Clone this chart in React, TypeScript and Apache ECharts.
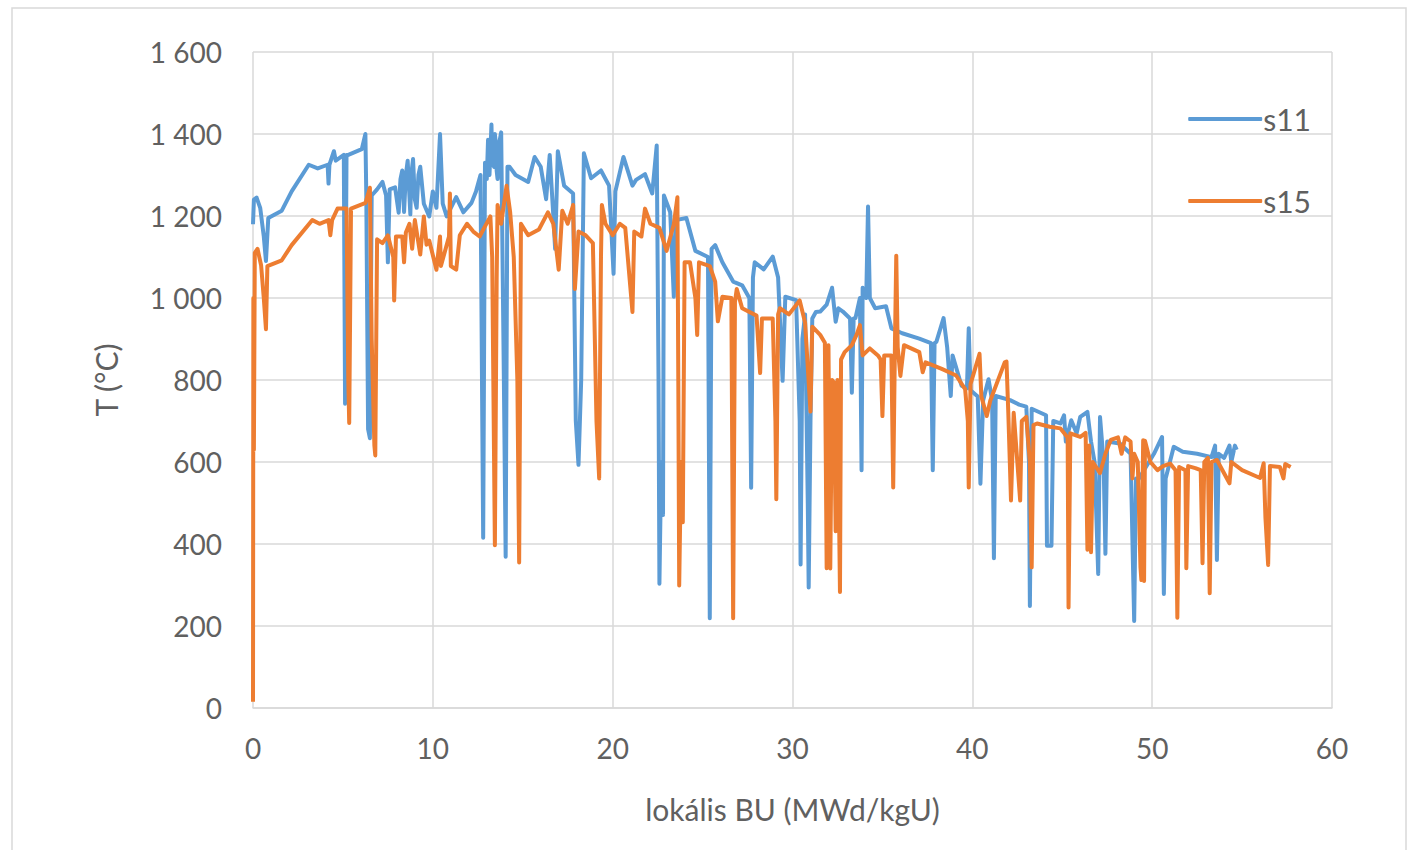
import React, { useEffect, useRef } from "react";
import * as echarts from "echarts";

const xTicks = [0, 10, 20, 30, 40, 50, 60];
const yTicks = [0, 200, 400, 600, 800, 1000, 1200, 1400, 1600];
const seriesNames = ["s11", "s15"];
const xTitle = "lokális BU (MWd/kgU)";
const yTitle = "T (°C)";

// s11: [burnup MWd/kgU, temperature °C]
const s11Points: [number, number][] = [
  [0.0, 1180], [0.05, 1240], [0.2, 1245], [0.4, 1220], [0.6, 1150], [0.72, 1090], [0.85, 1195],
  [1.6, 1213], [2.15, 1260], [3.1, 1325], [3.6, 1316], [4.15, 1325], [4.2, 1279], [4.25, 1325],
  [4.5, 1358], [4.6, 1335], [5.05, 1349], [5.12, 742], [5.2, 1349], [5.3, 1349], [6.05, 1363],
  [6.25, 1400], [6.3, 1250], [6.4, 680], [6.5, 658], [6.6, 1250], [6.9, 1265], [7.2, 1283],
  [7.4, 1250], [7.5, 1087], [7.6, 1265], [7.9, 1270], [8.1, 1208], [8.2, 1290], [8.3, 1311],
  [8.4, 1210], [8.5, 1300], [8.6, 1335], [8.75, 1204], [8.8, 1300], [8.9, 1339], [9.0, 1240],
  [9.1, 1220], [9.2, 1300], [9.3, 1320], [9.5, 1230], [9.8, 1199], [10.0, 1260], [10.2, 1220],
  [10.4, 1400], [10.55, 1230], [10.77, 1199], [11.3, 1246], [11.7, 1209], [12.15, 1232],
  [12.4, 1260], [12.65, 1300], [12.75, 700], [12.8, 415], [12.9, 1330], [13.0, 1290],
  [13.07, 1386], [13.15, 1300], [13.26, 1423], [13.3, 1330], [13.4, 1320], [13.45, 1400],
  [13.5, 1380], [13.55, 1310], [13.6, 1290], [13.7, 1380], [13.8, 1404], [13.95, 800],
  [14.05, 369], [14.15, 1320], [14.27, 1320], [14.6, 1300], [15.3, 1283], [15.66, 1344],
  [16.0, 1320], [16.3, 1241], [16.5, 1349], [16.7, 1200], [16.8, 1120], [16.95, 1358],
  [17.3, 1274], [17.8, 1255], [17.95, 700], [18.1, 593], [18.25, 800], [18.4, 1353], [18.8, 1292],
  [19.35, 1311], [19.8, 1274], [20.05, 1059], [20.15, 1260], [20.6, 1344], [21.1, 1274],
  [21.3, 1288], [21.8, 1302], [22.2, 1255], [22.45, 1372], [22.55, 800], [22.6, 303], [22.7, 600],
  [22.8, 471], [22.85, 1250], [23.2, 1209], [23.4, 1003], [23.5, 1190], [24.1, 1195],
  [24.6, 1115], [25.3, 1100], [25.4, 219], [25.5, 1120], [25.7, 1129], [26.1, 1087], [26.7, 1040],
  [27.2, 1031], [27.6, 1000], [27.7, 537], [27.8, 1050], [27.9, 1087], [28.4, 1070], [28.9, 1101],
  [29.2, 1050], [29.45, 798], [29.6, 1003], [30.2, 995], [30.4, 700], [30.45, 350], [30.55, 900],
  [30.7, 960], [30.85, 500], [30.9, 294], [31.0, 700], [31.1, 950], [31.3, 966], [31.54, 967],
  [31.9, 984], [32.2, 1025], [32.4, 942], [32.55, 975], [32.8, 967], [33.2, 950], [33.3, 769],
  [33.4, 950], [33.5, 951], [33.75, 1000], [33.84, 580], [33.9, 1025], [34.1, 1000], [34.2, 1223],
  [34.3, 1000], [34.6, 975], [35.2, 980], [35.5, 926], [36.1, 914], [37.05, 901], [37.7, 890],
  [37.8, 580], [37.9, 890], [38.0, 893], [38.4, 951], [38.6, 880], [38.8, 761], [38.9, 860],
  [39.4, 786], [39.7, 780], [39.8, 926], [39.9, 775], [40.3, 760], [40.45, 547], [40.6, 750],
  [40.9, 802], [41.1, 750], [41.2, 365], [41.3, 761], [42.1, 751], [42.6, 740], [43.0, 735],
  [43.15, 600], [43.2, 249], [43.3, 730], [44.1, 714], [44.15, 396], [44.4, 396], [44.5, 700],
  [44.9, 694], [45.1, 714], [45.2, 650], [45.5, 702], [45.8, 670], [46.0, 710], [46.4, 722],
  [46.6, 650], [46.8, 600], [47.0, 327], [47.1, 710], [47.3, 600], [47.4, 376], [47.5, 650],
  [48.2, 645], [48.8, 620], [49.0, 212], [49.1, 560], [49.2, 555], [50.1, 620], [50.55, 661],
  [50.65, 278], [50.75, 560], [51.2, 637], [51.7, 625], [52.5, 620], [53.3, 612], [53.5, 640],
  [53.6, 361], [53.7, 620], [54.0, 610], [54.3, 640], [54.4, 600], [54.6, 640], [54.7, 630],
];

// s15: [burnup MWd/kgU, temperature °C]
const s15Points: [number, number][] = [
  [0.0, 15], [0.02, 1000], [0.05, 630], [0.1, 1110], [0.25, 1120], [0.45, 1080], [0.6, 1000],
  [0.72, 924], [0.8, 1078], [1.6, 1092], [2.15, 1129], [3.3, 1190], [3.7, 1181], [4.2, 1190],
  [4.3, 1153], [4.4, 1190], [4.7, 1218], [5.2, 1218], [5.3, 800], [5.35, 695], [5.45, 1218],
  [6.26, 1232], [6.5, 1269], [6.6, 900], [6.75, 640], [6.8, 616], [6.9, 1143], [7.2, 1134],
  [7.5, 1153], [7.8, 1100], [7.85, 994], [7.95, 1150], [8.3, 1150], [8.4, 1087], [8.5, 1160],
  [8.7, 1181], [8.85, 1120], [9.0, 1190], [9.3, 1106], [9.5, 1199], [9.65, 1130], [9.8, 1140],
  [10.2, 1069], [10.4, 1150], [10.45, 1078], [10.9, 1150], [10.95, 1255], [11.0, 1078],
  [11.3, 1069], [11.5, 1153], [11.9, 1181], [12.25, 1162], [12.6, 1150], [13.2, 1199],
  [13.3, 1100], [13.45, 397], [13.55, 1050], [13.6, 1227], [13.8, 1181], [14.1, 1274],
  [14.3, 1209], [14.5, 1100], [14.7, 800], [14.8, 355], [14.9, 1181], [15.3, 1153], [15.9, 1167],
  [16.4, 1209], [16.7, 1181], [17.0, 1069], [17.2, 1213], [17.5, 1181], [17.8, 1227], [17.9, 1022],
  [18.1, 1162], [18.5, 1153], [18.9, 1134], [19.1, 700], [19.25, 560], [19.35, 1100], [19.4, 1227],
  [19.6, 1181], [20.0, 1153], [20.4, 1181], [20.7, 1171], [21.1, 966], [21.2, 1162], [21.6, 1150],
  [21.8, 1218], [22.1, 1181], [22.6, 1171], [23.0, 1115], [23.4, 1180], [23.6, 1246], [23.65, 800],
  [23.7, 299], [23.8, 600], [23.9, 453], [24.0, 1087], [24.3, 1087], [24.6, 1000], [24.7, 910],
  [24.8, 1087], [25.4, 1078], [25.7, 1040], [25.85, 943], [26.1, 1003], [26.6, 1000], [26.7, 219],
  [26.8, 990], [26.9, 1022], [27.2, 975], [28.0, 957], [28.2, 817], [28.3, 950], [28.9, 950],
  [29.05, 700], [29.1, 509], [29.2, 960], [29.3, 975], [29.8, 960], [30.4, 994], [30.7, 940],
  [31.0, 723], [31.1, 930], [31.54, 910], [31.8, 891], [31.9, 341], [32.0, 885], [32.1, 340],
  [32.2, 800], [32.3, 794], [32.4, 431], [32.5, 800], [32.64, 283], [32.7, 850], [32.9, 868],
  [33.3, 885], [33.56, 910], [33.75, 934], [33.9, 860], [34.3, 877], [34.75, 860], [34.9, 850],
  [35.0, 712], [35.1, 860], [35.5, 860], [35.6, 538], [35.7, 900], [35.77, 1103], [35.85, 880],
  [36.0, 810], [36.2, 885], [37.05, 868], [37.24, 819], [37.4, 843], [38.3, 827], [39.1, 811],
  [39.6, 778], [39.75, 700], [39.8, 538], [39.9, 790], [40.4, 864], [40.5, 760], [40.8, 712],
  [41.0, 750], [41.8, 843], [41.9, 845], [42.0, 720], [42.15, 506], [42.3, 720], [42.66, 506],
  [42.75, 700], [43.0, 710], [43.2, 600], [43.3, 343], [43.4, 690], [43.6, 694], [44.3, 686],
  [44.9, 682], [45.3, 660], [45.35, 245], [45.45, 670], [46.0, 661], [46.3, 671], [46.4, 386],
  [46.5, 640], [46.6, 380], [46.7, 600], [47.1, 573], [47.4, 620], [47.7, 654], [48.1, 660],
  [48.3, 620], [48.5, 660], [48.8, 650], [48.9, 560], [49.0, 620], [49.2, 600], [49.35, 343],
  [49.4, 312], [49.5, 653], [49.55, 310], [49.6, 652], [49.9, 600], [50.3, 580], [50.6, 590],
  [51.0, 596], [51.3, 580], [51.4, 220], [51.5, 588], [51.85, 580], [51.9, 341], [52.0, 590],
  [52.4, 585], [52.7, 580], [52.8, 353], [52.9, 600], [53.1, 610], [53.2, 280], [53.3, 600],
  [53.6, 605], [54.3, 548], [54.4, 600], [55.0, 580], [56.0, 561], [56.2, 597], [56.3, 463],
  [56.45, 349], [56.55, 590], [57.1, 588], [57.3, 560], [57.4, 595], [57.7, 588],
];

const colors = ["#5B9BD5", "#ED7D31"];
const textColor = "#606060";
const gridColor = "#D9D9D9";
const fontFamily = "Lato, 'Open Sans', sans-serif";

function fmtThousands(v: number): string {
  if (v >= 1000) {
    const th = Math.floor(v / 1000);
    const rest = String(v % 1000).padStart(3, "0");
    return `${th} ${rest}`;
  }
  return String(v);
}

export default function App() {
  const ref = useRef<HTMLDivElement>(null);
  useEffect(() => {
    if (!ref.current) return;
    const chart = echarts.init(ref.current, undefined, { renderer: "svg" });
    chart.setOption({
      animation: false,
      backgroundColor: "#ffffff",
      textStyle: { fontFamily },
      graphic: [
        {
          type: "rect",
          shape: { x: 12, y: 8, width: 1394, height: 860 },
          style: { fill: "none", stroke: gridColor, lineWidth: 1.5 },
          silent: true,
        },
      ],
      grid: { left: 253, right: 78, top: 52, bottom: 142, containLabel: false },
      legend: {
        orient: "vertical",
        right: 94,
        top: 99,
        itemWidth: 74,
        itemHeight: 4,
        itemGap: 52,
        icon: "roundRect",
        data: seriesNames,
        textStyle: { color: textColor, fontSize: 30, fontFamily, padding: [0, 0, 0, -4] },
      },
      xAxis: {
        type: "value",
        min: xTicks[0],
        max: xTicks[xTicks.length - 1],
        interval: 10,
        name: xTitle,
        nameLocation: "middle",
        nameGap: 86,
        nameTextStyle: { color: textColor, fontSize: 30, fontFamily },
        axisLine: { show: true, lineStyle: { color: gridColor, width: 1.5 } },
        axisTick: { show: false },
        axisLabel: { color: textColor, fontSize: 28, margin: 26, fontFamily },
        splitLine: { show: true, lineStyle: { color: gridColor, width: 1.5 } },
      },
      yAxis: {
        type: "value",
        min: yTicks[0],
        max: yTicks[yTicks.length - 1],
        interval: 200,
        name: yTitle,
        nameLocation: "middle",
        nameGap: 132,
        nameRotate: 90,
        nameTextStyle: { color: textColor, fontSize: 30, fontFamily },
        axisLine: { show: false },
        axisTick: { show: false },
        axisLabel: { color: textColor, fontSize: 28, margin: 31, fontFamily, formatter: (v: number) => fmtThousands(v) },
        splitLine: { show: true, lineStyle: { color: gridColor, width: 1.5 } },
      },
      series: [
        {
          name: seriesNames[0],
          type: "line",
          data: s11Points,
          symbol: "none",
          lineStyle: { color: colors[0], width: 4, join: "round" },
          itemStyle: { color: colors[0] },
          z: 2,
        },
        {
          name: seriesNames[1],
          type: "line",
          data: s15Points,
          symbol: "none",
          lineStyle: { color: colors[1], width: 4, join: "round" },
          itemStyle: { color: colors[1] },
          z: 3,
        },
      ],
    });
    return () => chart.dispose();
  }, []);
  return (
    <div
      ref={ref}
      style={{ position: "fixed", left: 0, top: 0, width: 1410, height: 850 }}
    />
  );
}
